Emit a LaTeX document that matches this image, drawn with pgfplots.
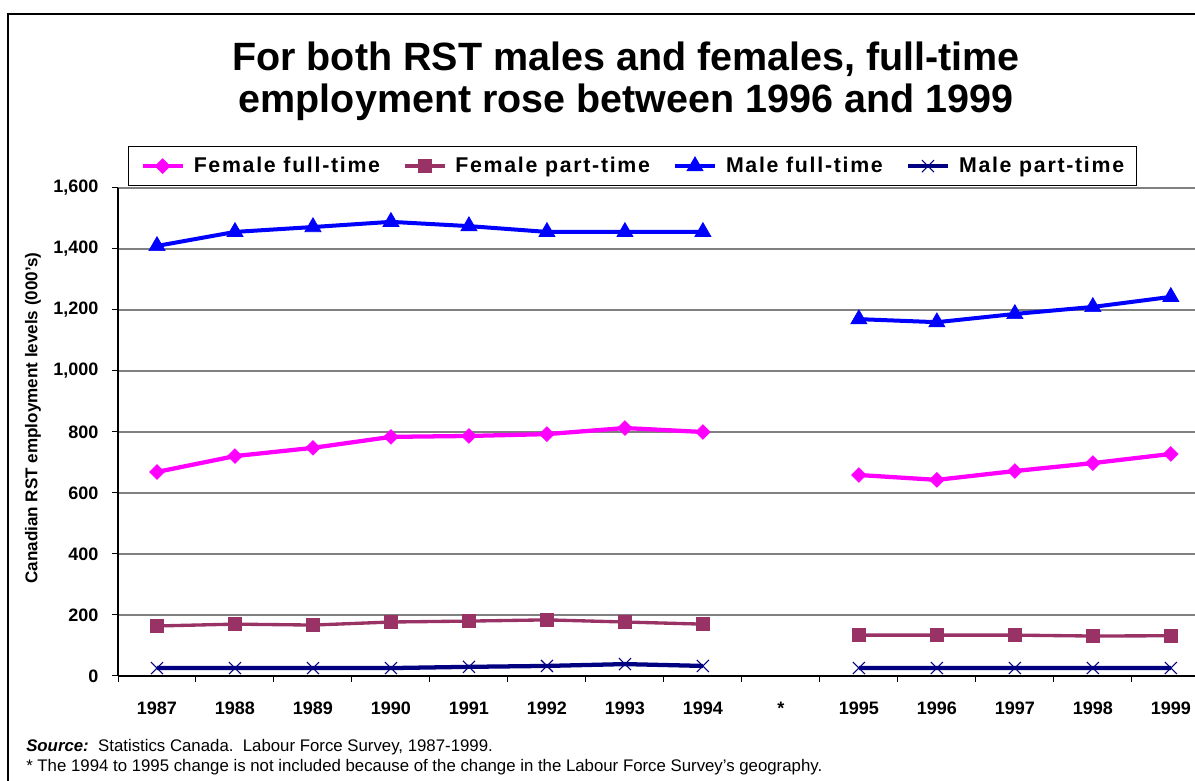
\documentclass[border=0pt]{standalone}
\usepackage{fontspec}
\setmainfont{Liberation Sans}
\usepackage{pgfplots}
\pgfplotsset{compat=1.18}
\definecolor{ffc}{RGB}{255,0,255}
\definecolor{fpc}{RGB}{153,51,102}
\definecolor{mfc}{RGB}{0,0,255}
\definecolor{mpc}{RGB}{0,0,128}
\definecolor{gridc}{RGB}{128,128,128}
\begin{document}
\begin{tikzpicture}
\useasboundingbox (0,0) rectangle (896.25pt,585.75pt);
\draw[line width=1.5pt] (6pt,-5pt) -- (6pt,575.25pt) -- (905pt,575.25pt);
\node[align=center, font=\fontsize{29.6}{31.5}\selectfont\bfseries] at (469.5pt,525pt) {For both RST males and females, full-time\\employment rose between 1996 and 1999};
\node[rotate=90, font=\fontsize{12.8}{15}\selectfont\bfseries] at (24.75pt,272.25pt) {Canadian RST employment levels (000's)};
\node[anchor=base west, inner sep=0pt, font=\fontsize{12.6}{14}\selectfont] at (19.5pt,21.75pt) {\textbf{\textit{Source:}}\ \ Statistics Canada.\ \ Labour Force Survey, 1987-1999.};
\node[anchor=base west, inner sep=0pt, font=\fontsize{12.6}{14}\selectfont] at (19.5pt,6.75pt) {* The 1994 to 1995 change is not included because of the change in the Labour Force Survey's geography.};
\begin{axis}[
  at={(88.5pt,78.75pt)}, anchor=south west,
  scale only axis, width=807.75pt, height=366pt,
  xmin=-0.5, xmax=13.31, ymin=0, ymax=1600,
  axis lines=left, axis line style={-, line width=1pt},
  xtick={0,...,13},
  xticklabels={1987,1988,1989,1990,1991,1992,1993,1994,*,1995,1996,1997,1998,1999},
  minor xtick={-0.5,0.5,...,13.5},
  major x tick style={draw=none},
  minor x tick style={line width=0.75pt, black},
  minor tick length=4.5pt,
  ytick={0,200,...,1600},
  major tick length=4.5pt,
  tick align=outside,
  ytick style={line width=0.75pt, black},
  ymajorgrids, grid style={gridc, line width=1pt},
  ticklabel style={font=\fontsize{13.5}{16}\selectfont\bfseries},
  /pgf/number format/assume math mode=true,
  /pgf/number format/1000 sep={,},
  yticklabel style={anchor=east, inner sep=0pt, xshift=-10pt},
  xticklabel style={anchor=north, inner sep=0pt, yshift=-15pt},
  unbounded coords=jump,
  legend columns=4,
  legend cell align=left,
  legend style={at={(0.0093,1.004)}, anchor=south west, draw=black, line width=0.75pt,
    font=\fontsize{16}{19}\selectfont\bfseries\addfontfeature{LetterSpace=8},
    nodes={inner sep=0pt},
    /tikz/every odd column/.append style={column sep=6.75pt},
    /tikz/every even column/.append style={column sep=17.25pt},
    inner xsep=9pt, inner ysep=8pt},
  legend image code/.code={\draw[mark repeat=2,mark phase=2] plot coordinates {(0pt,0pt)(15pt,0pt)(30pt,0pt)};},
]
\addplot[ffc, line width=3.2pt, mark=square*, mark size=3.9pt, mark options={rotate=45, solid, line width=0.5pt}] coordinates {
(0,669)(1,721)(2,748)(3,784)(4,787)(5,793)(6,813)(7,800)(8,nan)(9,659)(10,643)(11,672)(12,698)(13,728)};
\addlegendentry{Female full-time}
\addplot[fpc, line width=2.5pt, mark=square*, mark size=4.9pt, mark options={solid, line width=0.5pt}] coordinates {
(0,164)(1,170)(2,167)(3,177)(4,180)(5,184)(6,177)(7,170)(8,nan)(9,134)(10,134)(11,134)(12,131)(13,132)};
\addlegendentry{Female part-time}
\addplot[mfc, line width=3pt, mark=triangle*, mark size=7pt, mark options={solid, line width=0.5pt}] coordinates {
(0,1410)(1,1456)(2,1472)(3,1489)(4,1475)(5,1456)(6,1456)(7,1456)(8,nan)(9,1170)(10,1160)(11,1187)(12,1210)(13,1243)};
\addlegendentry{Male full-time}
\addplot[mpc, line width=3.2pt, mark=x, mark size=6.4pt, mark options={solid, line width=0.8pt}] coordinates {
(0,26)(1,26)(2,26)(3,26)(4,30)(5,33)(6,39)(7,33)(8,nan)(9,26)(10,26)(11,26)(12,26)(13,26)};
\addlegendentry{Male part-time}
\end{axis}
\end{tikzpicture}
\end{document}
